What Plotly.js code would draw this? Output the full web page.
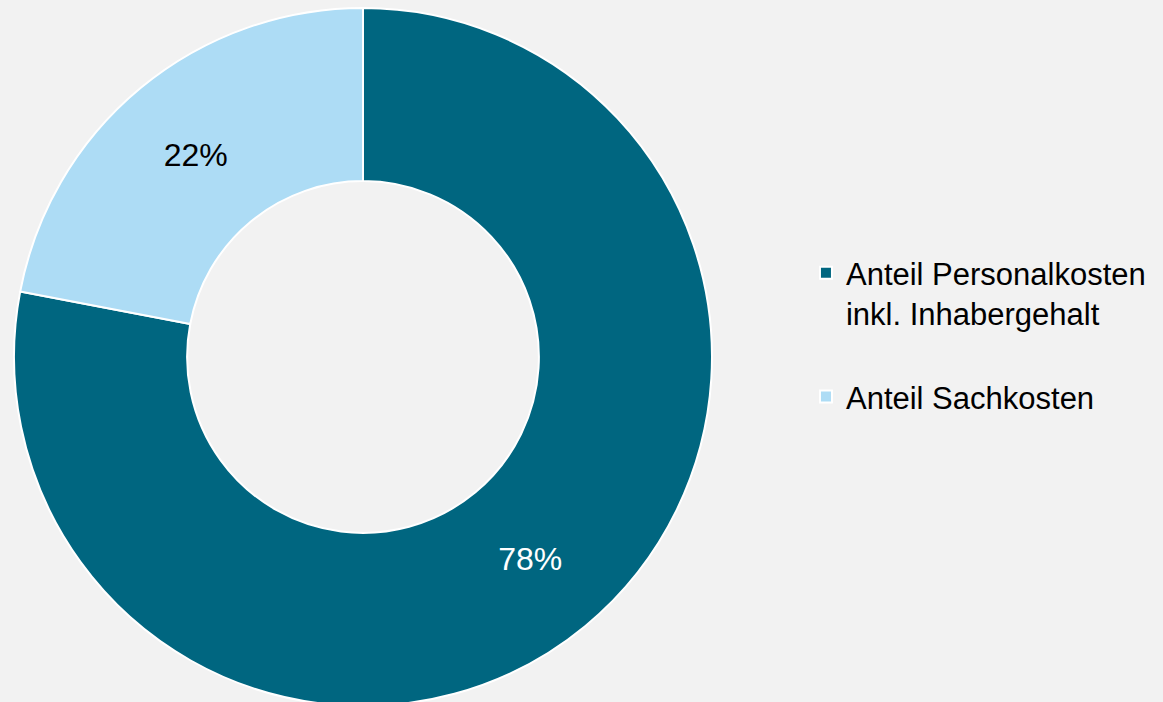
<!DOCTYPE html>
<html>
<head>
<meta charset="utf-8">
<script src="https://cdn.plot.ly/plotly-3.0.1.min.js"></script>
<style>
html,body{margin:0;padding:0;background:#F2F2F2;overflow:hidden;}
#chart{width:1163px;height:712px;}
</style>
</head>
<body>
<div id="chart"></div>
<script>
const labels = ["Anteil Personalkosten<br>inkl. Inhabergehalt<br> ", "Anteil Sachkosten"];
const values = [78, 22];
const colors = ["#006680", "#ADDCF5"];
const textColors = ["#FFFFFF", "#000000"];

const data = [{
  type: "pie",
  labels: labels,
  values: values,
  hole: 0.504,
  sort: false,
  direction: "clockwise",
  rotation: 0,
  marker: {colors: colors, line: {color: "#FFFFFF", width: 2}},
  textinfo: "percent",
  texttemplate: "%{percent:.0%}",
  textposition: "inside",
  insidetextorientation: "horizontal",
  textfont: {family: "Liberation Sans, Arial, sans-serif", size: 32, color: textColors},
  domain: {x: [0.01204, 0.6122], y: [0.0084, 0.9888]},
  hoverinfo: "none"
}];

const layout = {
  width: 1163,
  height: 712,
  paper_bgcolor: "#F2F2F2",
  plot_bgcolor: "#F2F2F2",
  margin: {l: 0, r: 0, t: 0, b: 0},
  showlegend: true,
  font: {family: "Liberation Sans, Arial, sans-serif", color: "#000000"},
  legend: {
    x: 0.693, xanchor: "left",
    y: 0.6545, yanchor: "top",
    valign: "top",
    bgcolor: "rgba(0,0,0,0)",
    font: {family: "Liberation Sans, Arial, sans-serif", size: 31, color: "#000000"}
  }
};

Plotly.newPlot("chart", data, layout, {displayModeBar: false, staticPlot: true});
</script>
</body>
</html>
